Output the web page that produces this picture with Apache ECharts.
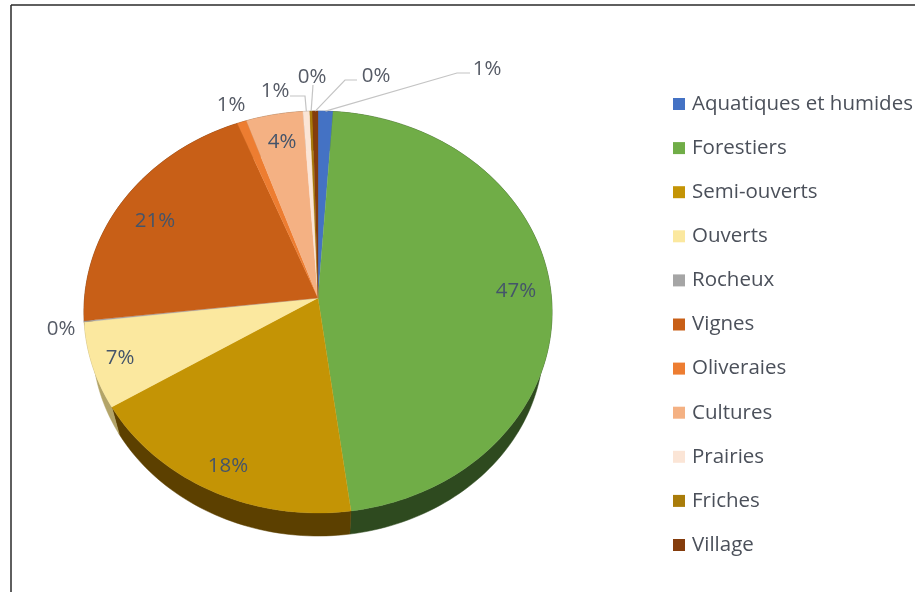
<!DOCTYPE html>
<html>
<head>
<meta charset="utf-8">
<style>html,body{margin:0;padding:0;background:#fff}#c{width:915px;height:592px}</style>
<script src="https://cdn.jsdelivr.net/npm/echarts@6/dist/echarts.min.js"></script>
</head>
<body>
<div id="c"></div>
<script>
const categories = ['Aquatiques et humides','Forestiers','Semi-ouverts','Ouverts','Rocheux','Vignes','Oliveraies','Cultures','Prairies','Friches','Village'];
const values = [1.1,46.8,18.3,6.9,0.1,20.8,0.7,4.2,0.5,0.2,0.4];
const colors = ['#4472c4','#70ad47','#c49405','#fbe89f','#a5a5a5','#c85f17','#ed7d31','#f4b183','#fbe5d6','#a97c0a','#843c0c'];
const sideColors = ['#27406f','#2e4a1f','#5c4000','#b3a468','#5d5d5d','#6f3409','#85461b','#89633f','#8d8178','#5f4505','#4a2106'];
// label anchors (page pixels) and leader-line elbows, layout only
const labelPos = [[487,69],[516,291],[228,466],[120,358],[61,329],[155,221],[231,105],[282,142],[275,91],[312,77],[376,76]];
const leaders = {0:[[457,73],[470,73]],8:[[305,96],[290,96]],9:[[313,85]],10:[[345,80],[357,80]]};

const total = values.reduce((a,b)=>a+b,0);
let acc = 0;
const spans = values.map(v=>{const s=acc; acc+=v; return [s,acc];});

// perspective projection of the tilted disc
const top_ = {cx:318,cy:298,R:233.5,S:200,k:0.0698};
const bot_ = {cx:318,cy:329.6,R:225,S:192,k:0.0698};
function proj(p,pct){
  const a=pct/total*Math.PI*2, x=Math.sin(a), y=-Math.cos(a);
  const w=1-p.k*y;
  return [p.cx+p.R*x/w,p.cy+p.S*y/w];
}
function arc(p,s,e){
  const n=Math.max(2,Math.ceil((e-s)/0.4)), pts=[];
  for(let i=0;i<=n;i++) pts.push(proj(p,s+(e-s)*i/n));
  return pts;
}
const labelFont='"Open Sans","Noto Sans",sans-serif';

function makeRender(idx){
  return function(params,api){
    const s=api.value(0), e=api.value(1), children=[];
    const upper=arc(top_,s,e), lower=arc(bot_,s,e);
    children.push({type:'polygon',z2:1,shape:{points:upper.concat(lower.slice().reverse())},style:{fill:sideColors[idx],stroke:sideColors[idx],lineWidth:0.5}});
    children.push({type:'polygon',z2:10,shape:{points:[[top_.cx,top_.cy]].concat(upper)},style:{fill:colors[idx],stroke:colors[idx],lineWidth:0.3}});
    if(leaders[idx]){
      const start=proj(top_,(s+e)/2);
      children.push({type:'polyline',z2:15,shape:{points:[start].concat(leaders[idx])},style:{fill:null,stroke:'#c4c4c4',lineWidth:1.2}});
    }
    const lp=labelPos[idx], inside=[1,2,3,5,7].includes(idx);
    children.push({type:'text',z2:20,x:lp[0],y:lp[1],style:{text:Math.round(values[idx])+'%',fontFamily:labelFont,fontSize:20.5,fill:inside?'#44546a':'#565b66',align:'center',verticalAlign:'middle'}});
    return {type:'group',children:children};
  };
}

const chart=echarts.init(document.getElementById('c'));
chart.setOption({
  animation:false,
  backgroundColor:'#fff',
  legend:{
    orient:'vertical',left:668,top:87,icon:'rect',itemWidth:12,itemHeight:12,itemGap:20.1,
    data:categories,selectedMode:false,
    textStyle:{fontFamily:labelFont,fontSize:20.5,lineHeight:24,color:'#4b505a',padding:[0,0,0,2]}
  },
  graphic:[
    {type:'line',silent:true,shape:{x1:11,y1:5,x2:915,y2:5},style:{stroke:'#2a2a2a',lineWidth:1.5}},
    {type:'line',silent:true,shape:{x1:11,y1:5,x2:11,y2:592},style:{stroke:'#2a2a2a',lineWidth:1.5}}
  ],
  series:categories.map((name,i)=>({
    type:'custom',name:name,coordinateSystem:'none',silent:true,
    itemStyle:{color:colors[i]},
    data:[spans[i]],
    renderItem:makeRender(i)
  }))
});
</script>
</body>
</html>
